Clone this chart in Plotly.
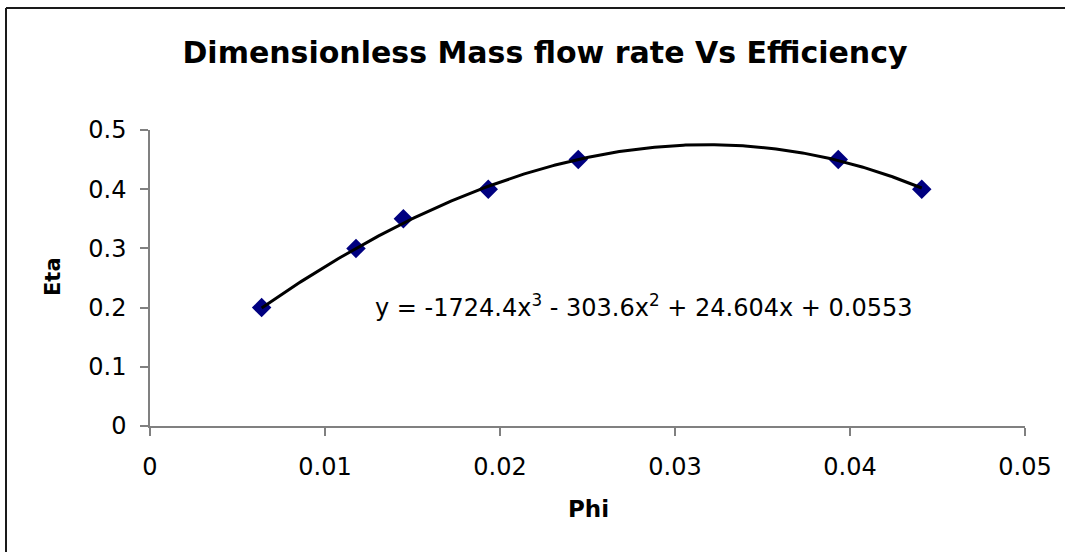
import numpy as np
import plotly.graph_objects as go

# Measured operating points: dimensionless mass flow rate vs efficiency
phi = [0.00638, 0.01177, 0.01448, 0.01933, 0.02447, 0.03933, 0.0441]
eta = [0.20, 0.30, 0.35, 0.40, 0.45, 0.45, 0.40]

# Cubic trend line coefficients (highest power first)
trend_coeffs = [-1724.4, -303.6, 24.604, 0.0553]
trend_label = "y = -1724.4x<sup>3</sup> - 303.6x<sup>2</sup> + 24.604x + 0.0553"

x_ticks = [0, 0.01, 0.02, 0.03, 0.04, 0.05]
x_tick_text = ["0", "0.01", "0.02", "0.03", "0.04", "0.05"]
y_ticks = [0, 0.1, 0.2, 0.3, 0.4, 0.5]
y_tick_text = ["0", "0.1", "0.2", "0.3", "0.4", "0.5"]

FONT = "DejaVu Sans, Liberation Sans, Arial, sans-serif"
W, H = 1068, 552
ML, MR, MT, MB = 150, 43, 130, 126
PW, PH = W - ML - MR, H - MT - MB


def px_to_paper(px, py):
    return (px - ML) / PW, (H - MB - py) / PH


trend_x = np.linspace(min(phi), max(phi), 300)
trend_y = np.polyval(trend_coeffs, trend_x)

fig = go.Figure()
fig.add_trace(go.Scatter(
    x=phi, y=eta, mode="markers",
    marker=dict(symbol="diamond", size=15, color="#000080", line=dict(width=0)),
    showlegend=False, hoverinfo="x+y",
))
fig.add_trace(go.Scatter(
    x=trend_x, y=trend_y, mode="lines",
    line=dict(color="#000000", width=3),
    showlegend=False, hoverinfo="skip",
))

axis_common = dict(
    showgrid=False, zeroline=False, showline=True,
    linecolor="#808080", linewidth=1.5,
    ticks="outside", ticklen=8, tickwidth=1.5, tickcolor="#808080",
    tickfont=dict(family=FONT, size=24, color="#000000"),
)
fig.update_xaxes(range=[0, 0.05], tickvals=x_ticks, ticktext=x_tick_text,
                 ticklabelstandoff=10, **axis_common)
fig.update_yaxes(range=[0, 0.5], tickvals=y_ticks, ticktext=y_tick_text,
                 ticklabelstandoff=9, **axis_common)

eta_x, eta_y = px_to_paper(53, 277)
phi_x, phi_y = px_to_paper(588, 509)
eq_x, eq_y = px_to_paper(373, 306)
frame_x, _ = px_to_paper(6, 0)
_, frame_top = px_to_paper(0, 8)
_, frame_bottom = px_to_paper(0, H)
frame_right, _ = px_to_paper(W - 3, 0)

fig.update_layout(
    width=W, height=H,
    margin=dict(l=ML, r=MR, t=MT, b=MB),
    paper_bgcolor="#ffffff", plot_bgcolor="#ffffff",
    title=dict(
        text="<b>Dimensionless Mass flow rate Vs Efficiency</b>",
        x=545 / W, xanchor="center", y=1 - 52 / H, yanchor="middle",
        font=dict(family=FONT, size=30, color="#000000"),
    ),
    annotations=[
        dict(text="<b>Eta</b>", x=eta_x, y=eta_y, xref="paper", yref="paper",
             textangle=-90, showarrow=False, xanchor="center", yanchor="middle",
             font=dict(family=FONT, size=21, color="#000000")),
        dict(text="<b>Phi</b>", x=phi_x, y=phi_y, xref="paper", yref="paper",
             showarrow=False, xanchor="center", yanchor="middle",
             font=dict(family=FONT, size=23, color="#000000")),
        dict(text=trend_label, x=eq_x, y=eq_y, xref="paper", yref="paper",
             showarrow=False, xanchor="left", yanchor="middle",
             font=dict(family=FONT, size=24, color="#000000")),
    ],
    shapes=[
        dict(type="line", xref="paper", yref="paper",
             x0=frame_x, x1=frame_x, y0=frame_bottom, y1=frame_top,
             line=dict(color="#1a1a1a", width=2)),
        dict(type="line", xref="paper", yref="paper",
             x0=frame_x, x1=frame_right, y0=frame_top, y1=frame_top,
             line=dict(color="#1a1a1a", width=2)),
    ],
)

fig.write_html("out.html", config={"displayModeBar": False})
